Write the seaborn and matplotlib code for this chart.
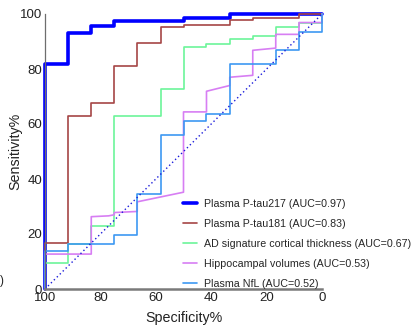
import matplotlib
matplotlib.use("Agg")
import matplotlib.pyplot as plt
import seaborn as sns
import pandas as pd

# ROC operating points (specificity %, sensitivity %) for each marker
labels = [
    "Plasma P-tau217 (AUC=0.97)",
    "Plasma P-tau181 (AUC=0.83)",
    "AD signature cortical thickness (AUC=0.67)",
    "Hippocampal volumes (AUC=0.53)",
    "Plasma NfL (AUC=0.52)",
]

ptau217_spec = [100, 100, 91.7, 91.7, 83.3, 83.3, 75, 75, 50, 50, 33.3, 33.3, 0]
ptau217_sens = [0, 81.8, 81.8, 93.2, 93.2, 95.5, 95.5, 97.4, 97.4, 98.4, 98.4, 100, 100]

ptau181_spec = [100, 100, 91.7, 91.7, 83.3, 83.3, 75, 75, 66.7, 66.7, 58.3, 58.3,
                50, 50, 33.3, 33.3, 25, 25, 8.3, 8.3, 0]
ptau181_sens = [0, 16.8, 16.8, 62.8, 62.8, 67.6, 67.6, 81.2, 81.2, 89.5, 89.5, 95.2,
                95.2, 95.9, 95.9, 97.7, 97.7, 98.4, 98.4, 100, 100]

cortical_spec = [100, 100, 91.7, 91.7, 83.3, 83.3, 75, 75, 58.3, 58.3, 50, 50,
                 41.7, 41.7, 33.3, 33.3, 25, 25, 16.7, 16.7, 8.3, 8.3, 0, 0]
cortical_sens = [0, 9.6, 9.6, 16.3, 16.3, 22.9, 22.9, 62.8, 62.8, 72.8, 72.8, 87.9,
                 87.9, 89.1, 89.1, 91.0, 91.0, 91.9, 91.9, 95.2, 95.2, 96.9, 96.9, 100]

hippo_spec = [100, 100, 83.3, 83.3, 77, 75, 75, 66.7, 66.7, 50, 50, 41.7, 41.7,
              33.3, 33.3, 25, 25, 16.7, 16.7, 8.3, 8.3, 0, 0]
hippo_sens = [0, 12.7, 12.7, 26.3, 26.6, 27.0, 27.8, 28.2, 31.7, 35.2, 64.4, 64.4, 71.9,
              74.0, 77.0, 77.7, 86.8, 87.6, 92.6, 92.6, 96.9, 96.9, 100]

nfl_spec = [100, 100, 91.7, 91.7, 75, 75, 66.7, 66.7, 58.3, 58.3, 50, 50, 41.7, 41.7,
            33.3, 33.3, 16.7, 16.7, 8.3, 8.3, 0, 0]
nfl_sens = [0, 13.8, 13.8, 16.3, 16.3, 19.6, 19.6, 34.4, 34.4, 56.1, 56.1, 61.2, 61.2,
            63.6, 63.6, 81.8, 81.8, 86.8, 86.8, 93.5, 93.5, 100]

ref_spec = [100, 0]
ref_sens = [0, 100]

curves = [
    (ptau217_spec, ptau217_sens),
    (ptau181_spec, ptau181_sens),
    (cortical_spec, cortical_sens),
    (hippo_spec, hippo_sens),
    (nfl_spec, nfl_sens),
]
colors = ["#0000FF", "#A54545", "#6CF59A", "#D77EF3", "#3D98F2"]
widths = [2.6, 1.2, 1.2, 1.2, 1.2]

sns.set_style("white")
plt.rcParams["font.family"] = ["Liberation Sans", "DejaVu Sans"]

fig = plt.figure(figsize=(4.12, 3.31), dpi=100)
ax = fig.add_axes([45 / 412, 1 - 289 / 331, (322 - 45) / 412, (289 - 14) / 331])

for (spec, sens), lab, col, lw in zip(curves, labels, colors, widths):
    df = pd.DataFrame({"Specificity": spec, "Sensitivity": sens})
    sns.lineplot(data=df, x="Specificity", y="Sensitivity", sort=False,
                 estimator=None, color=col, linewidth=lw, label=lab, ax=ax,
                 clip_on=False)

ref = pd.DataFrame({"Specificity": ref_spec, "Sensitivity": ref_sens})
sns.lineplot(data=ref, x="Specificity", y="Sensitivity", sort=False,
             estimator=None, color="#1a1adb", linewidth=1.0,
             linestyle=(0, (1, 2)), ax=ax, clip_on=False)

ax.set_xlim(100, 0)
ax.set_ylim(0, 100)
ax.set_xticks([100, 80, 60, 40, 20, 0])
ax.set_yticks([0, 20, 40, 60, 80, 100])
ax.tick_params(direction="in", length=2, width=0.8, labelsize=9.5,
               colors="#222222", pad=2)
for s in ["top", "right"]:
    ax.spines[s].set_visible(False)
ax.spines["left"].set_color("#6e6e6e")
ax.spines["left"].set_linewidth(0.9)
ax.spines["bottom"].set_color("#7a7a7a")
ax.spines["bottom"].set_linewidth(1.8)

ax.set_xlabel("Specificity%", fontsize=10.3, labelpad=5, color="#222222")
ax.set_ylabel("Sensitivity%", fontsize=10.3, color="#222222")
ax.yaxis.set_label_coords(-0.083, 0.5)

handles, labs = ax.get_legend_handles_labels()
ax.get_legend().remove()
fig.legend(handles[:5], labs[:5], loc="upper left",
           bbox_to_anchor=(183 / 412, 1 - 199 / 331), frameon=False,
           fontsize=7.7, handlelength=1.3, handletextpad=0.65,
           labelspacing=0.93, borderpad=0, borderaxespad=0)

fig.text(0.0, 1 - 281 / 331, ")", ha="left", va="center", fontsize=8.5,
         color="#222222")

fig.savefig("out.png", dpi=100)
